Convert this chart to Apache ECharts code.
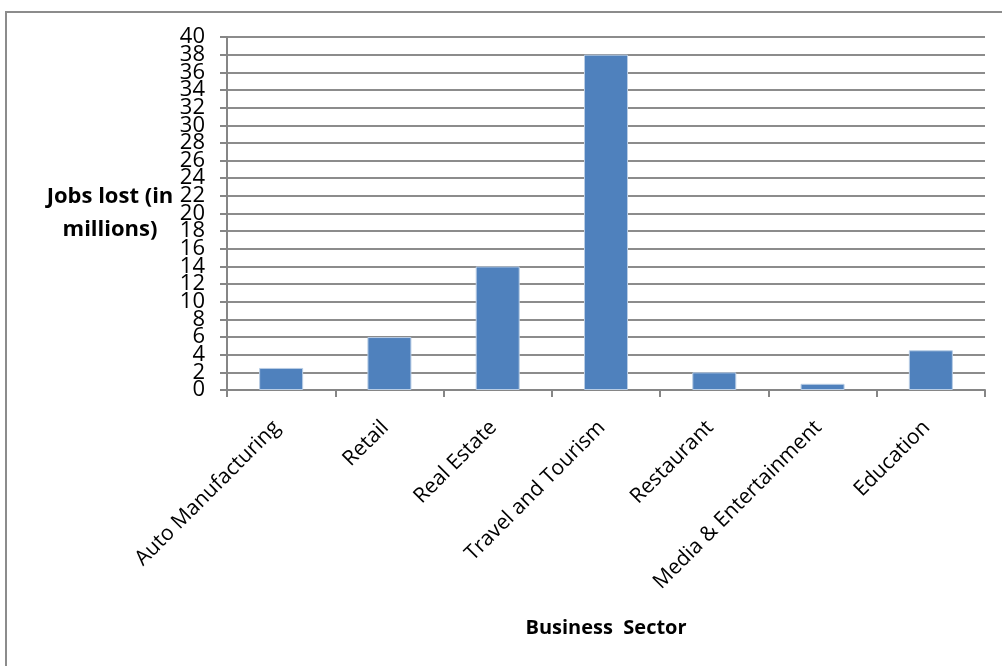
<!DOCTYPE html>
<html><head><meta charset="utf-8">
<script src="https://cdn.jsdelivr.net/npm/echarts@6/dist/echarts.min.js"></script>
<style>
html,body{margin:0;padding:0;background:#fff;}
#wrap{position:relative;width:1002px;height:666px;overflow:hidden;}
#frame{position:absolute;left:5px;top:11px;width:1100px;height:800px;border:2px solid #8c8c8c;box-sizing:border-box;}
#chart{position:absolute;left:0;top:0;width:1002px;height:666px;}
</style></head>
<body><div id="wrap"><div id="frame"></div><div id="chart"></div></div>
<script>
const categories = ['Auto Manufacturing','Retail','Real Estate','Travel and Tourism','Restaurant','Media & Entertainment','Education'];
const jobsLost = [2.5, 6, 14, 38, 2, 0.7, 4.5];
const yTickLabels = ['0','2','4','6','8','10','12','14','16','18','20','22','24','26','28','30','32','34','36','38','40'];
const yTitle = 'Jobs lost (in\nmillions)';
const xTitle = 'Business  Sector';

const font = '"Open Sans", Lato, sans-serif';
const chart = echarts.init(document.getElementById('chart'));
chart.setOption({
  animation:false,
  grid:{left:227, right:17, top:37, bottom:276, containLabel:false},
  xAxis:{
    type:'category', data:categories,
    axisLine:{lineStyle:{color:'#868686', width:2}},
    axisTick:{show:true, alignWithLabel:false, length:7, lineStyle:{color:'#868686', width:2}},
    axisLabel:{rotate:45, interval:0, fontSize:21, color:'#000', fontFamily:font, margin:30, padding:[0,6,0,0]},
    name:xTitle, nameLocation:'middle', nameGap:228,
    nameTextStyle:{fontSize:20, fontWeight:'bold', color:'#000', fontFamily:font, verticalAlign:'top'}
  },
  yAxis:[{
    type:'value', min:0, max:40, interval:2,
    axisLine:{show:true, lineStyle:{color:'#868686', width:2}},
    axisTick:{show:true, length:7, lineStyle:{color:'#868686', width:2}},
    splitLine:{lineStyle:{color:'#8c8c8c', width:2}},
    axisLabel:{show:false},
    name:yTitle, nameLocation:'middle', nameRotate:0, nameGap:117,
    nameTextStyle:{fontSize:22, fontWeight:'bold', color:'#000', fontFamily:font, align:'center', lineHeight:33}
  },{
    type:'category', data:yTickLabels, boundaryGap:false, position:'left',
    axisLine:{show:false}, axisTick:{show:false}, splitLine:{show:false},
    axisLabel:{interval:0, fontSize:22, color:'#000', fontFamily:font, margin:22, lineHeight:8}
  }],
  series:[{
    type:'bar', data:jobsLost, barWidth:44, yAxisIndex:0,
    itemStyle:{color:'#4f81bd', borderColor:'#b9cde5', borderWidth:1}
  }]
});
</script></body></html>
